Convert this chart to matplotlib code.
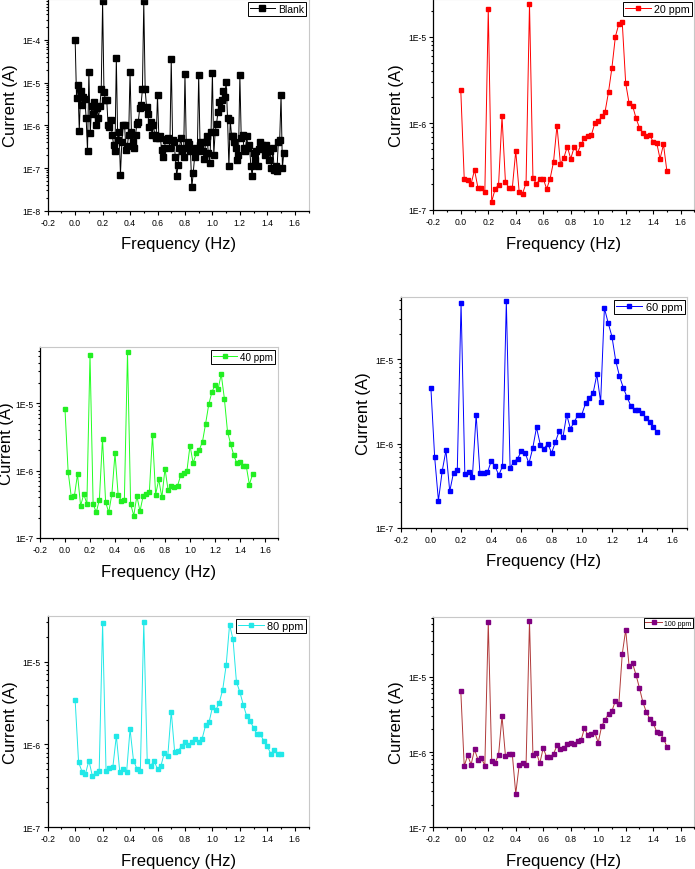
import numpy as np
import matplotlib
matplotlib.use("Agg")
import matplotlib.pyplot as plt
from matplotlib.ticker import FuncFormatter, MultipleLocator, LogLocator, NullFormatter

plt.rcParams['font.family'] = ['Liberation Sans', 'DejaVu Sans']

# ---------------- data ----------------
freq_blank = [round(0.01 * i, 2) for i in range(153)]
cur_blank = [
    1e-4, 4.4e-6, 9e-6, 7.5e-7, 6.5e-6, 3e-6, 4.5e-6, 4.2e-6, 1.5e-6, 2.5e-7,
    1.8e-5, 6.5e-7, 2.8e-6, 1.8e-6, 3.5e-6, 1e-6, 2.5e-6, 1.5e-6, 2.8e-6, 7e-6,
    8e-4, 6e-6, 4e-6, 4e-6, 1e-6, 9e-7, 1.3e-6, 6e-7, 3.5e-7, 2.5e-7,
    3.8e-5, 4.5e-7, 7e-7, 7e-8, 4e-7, 1e-6, 1e-6, 2.7e-7, 3.3e-7, 6e-7,
    1.8e-5, 7e-7, 4e-7, 3e-7, 6e-7, 1.1e-6, 1.2e-6, 2.5e-6, 3e-6, 7e-6,
    8e-4, 7e-6, 2.7e-6, 1.8e-6, 9e-7, 1.2e-6, 6e-7, 1e-6, 6e-7, 5e-7,
    5e-6, 5e-7, 5.5e-7, 2.6e-7, 1.8e-7, 3e-7, 4.5e-7, 4.8e-7, 5e-7, 3e-7,
    3.5e-5, 4.5e-7, 4e-7, 1.8e-7, 6.5e-8, 1.2e-7, 3e-7, 5e-7, 2.5e-7, 1.8e-7,
    1.6e-5, 3e-7, 4e-7, 3.6e-7, 2.5e-7, 3.5e-8, 7.5e-8, 1.8e-7, 3e-7, 2.5e-7,
    1.5e-5, 3.5e-7, 4e-7, 2.5e-7, 1.6e-7, 4e-7, 5.5e-7, 2.3e-7, 1.3e-7, 7e-7,
    1.7e-5, 2e-7, 7e-7, 1.1e-6, 2e-6, 3.5e-6, 2.5e-6, 4e-6, 6.5e-6, 4.5e-6,
    1.05e-5, 1.5e-6, 1.1e-7, 1.3e-6, 5.5e-7, 5.5e-7, 4e-7, 3e-7, 1.5e-7, 2e-7,
    1.5e-5, 5e-7, 6e-7, 3e-7, 2.5e-7, 5.5e-7, 3e-7, 3.5e-7, 1.1e-7, 6.5e-8,
    2.3e-7, 1.5e-7, 2.5e-7, 1.1e-7, 2.8e-7, 4e-7, 3.5e-7, 3e-7, 2e-7, 3.5e-7,
    2.5e-7, 1.5e-7, 2.5e-7, 1e-7, 3e-7, 9e-8, 1.1e-7, 8.5e-8, 4e-7, 4.5e-7,
    5e-6, 1.0e-7, 2.3e-7,
]

freq = [round(0.025 * i, 3) for i in range(61)]

cur_20 = [
    2.4e-6, 2.3e-7, 2.2e-7, 2.0e-7, 2.9e-7, 1.8e-7, 1.8e-7, 1.6e-7, 2.1e-5, 1.25e-7,
    1.75e-7, 1.95e-7, 1.2e-6, 2.1e-7, 1.8e-7, 1.8e-7, 4.8e-7, 1.6e-7, 1.55e-7, 2.05e-7,
    2.4e-5, 2.35e-7, 2.0e-7, 2.25e-7, 2.3e-7, 1.75e-7, 2.3e-7, 3.6e-7, 9.4e-7, 3.4e-7,
    4.0e-7, 5.4e-7, 3.9e-7, 5.3e-7, 4.6e-7, 5.7e-7, 6.7e-7, 7.1e-7, 7.3e-7, 1.0e-6,
    1.05e-6, 1.2e-6, 1.36e-6, 2.3e-6, 4.4e-6, 1.0e-5, 1.4e-5, 1.46e-5, 2.9e-6, 1.7e-6,
    1.6e-6, 1.15e-6, 8.9e-7, 7.8e-7, 7.1e-7, 7.3e-7, 6.1e-7, 6.0e-7, 3.9e-7, 5.7e-7,
    2.8e-7,
]

cur_40 = [
    8.1e-6, 9.7e-7, 4.1e-7, 4.2e-7, 8.8e-7, 3.0e-7, 4.5e-7, 3.2e-7, 5.3e-5, 3.2e-7,
    2.4e-7, 3.7e-7, 3.0e-6, 3.4e-7, 2.4e-7, 4.5e-7, 1.8e-6, 4.4e-7, 3.6e-7, 3.7e-7,
    5.8e-5, 3.2e-7, 2.15e-7, 4.2e-7, 2.5e-7, 4.2e-7, 4.5e-7, 4.9e-7, 3.4e-6, 4.4e-7,
    7.4e-7, 4.0e-7, 1.07e-6, 5.1e-7, 6.0e-7, 5.7e-7, 5.9e-7, 8.5e-7, 9.1e-7, 9.8e-7,
    2.36e-6, 1.3e-6, 1.8e-6, 2.05e-6, 2.7e-6, 5.0e-6, 9.6e-6, 1.47e-5, 1.86e-5, 1.64e-5,
    2.7e-5, 1.17e-5, 3.8e-6, 2.5e-6, 1.7e-6, 1.28e-6, 1.35e-6, 1.17e-6, 1.17e-6, 6.2e-7,
    8.8e-7,
]

cur_60 = [
    4.6e-6, 6.9e-7, 2.1e-7, 4.7e-7, 8.3e-7, 2.7e-7, 4.5e-7, 4.8e-7, 4.7e-5, 4.4e-7,
    4.65e-7, 4.0e-7, 2.2e-6, 4.45e-7, 4.5e-7, 4.55e-7, 6.2e-7, 5.4e-7, 4.2e-7, 5.4e-7,
    4.9e-5, 5.1e-7, 6.1e-7, 6.6e-7, 8.2e-7, 7.7e-7, 5.8e-7, 8.8e-7, 1.55e-6, 9.7e-7,
    8.7e-7, 1.0e-6, 7.7e-7, 1.04e-6, 1.4e-6, 1.18e-6, 2.2e-6, 1.5e-6, 1.8e-6, 2.2e-6,
    2.2e-6, 3.0e-6, 3.5e-6, 3.95e-6, 6.6e-6, 3.1e-6, 4.06e-5, 2.7e-5, 1.86e-5, 9.6e-6,
    6.3e-6, 4.6e-6, 3.55e-6, 2.8e-6, 2.5e-6, 2.5e-6, 2.3e-6, 2.0e-6, 1.8e-6, 1.56e-6,
    1.37e-6,
]

cur_80 = [
    3.4e-6, 6.1e-7, 4.7e-7, 4.4e-7, 6.4e-7, 4.2e-7, 4.5e-7, 4.8e-7, 2.9e-5, 4.8e-7,
    5.2e-7, 5.4e-7, 1.27e-6, 4.7e-7, 5.0e-7, 4.7e-7, 1.53e-6, 6.4e-7, 5.1e-7, 4.8e-7,
    3.0e-5, 6.3e-7, 5.5e-7, 6.4e-7, 5.0e-7, 5.5e-7, 8.0e-7, 7.3e-7, 2.5e-6, 8.1e-7,
    8.4e-7, 9.5e-7, 1.08e-6, 9.9e-7, 1.06e-6, 1.15e-6, 1.08e-6, 1.17e-6, 1.7e-6, 1.85e-6,
    2.8e-6, 2.6e-6, 3.2e-6, 4.6e-6, 9.0e-6, 2.8e-5, 1.86e-5, 5.7e-6, 4.3e-6, 3.0e-6,
    2.2e-6, 1.9e-6, 1.6e-6, 1.32e-6, 1.32e-6, 1.1e-6, 9.6e-7, 7.7e-7, 8.6e-7, 7.7e-7,
    7.7e-7,
]

cur_100 = [
    6.5e-6, 6.5e-7, 9.0e-7, 6.8e-7, 1.08e-6, 7.9e-7, 8.3e-7, 6.6e-7, 5.3e-5, 7.6e-7,
    7.2e-7, 9.2e-7, 3.0e-6, 8.9e-7, 9.3e-7, 9.3e-7, 2.8e-7, 6.7e-7, 7.1e-7, 6.7e-7,
    5.5e-5, 9.1e-7, 9.8e-7, 7.1e-7, 1.13e-6, 8.5e-7, 8.7e-7, 9.4e-7, 1.23e-6, 1.1e-6,
    1.14e-6, 1.27e-6, 1.31e-6, 1.27e-6, 1.39e-6, 1.43e-6, 2.07e-6, 1.67e-6, 1.75e-6, 1.82e-6,
    1.33e-6, 2.2e-6, 2.7e-6, 3.2e-6, 3.5e-6, 4.8e-6, 4.3e-6, 2.0e-5, 4.2e-5, 1.37e-5,
    1.5e-5, 1.06e-5, 7.1e-6, 4.6e-6, 3.4e-6, 2.75e-6, 2.45e-6, 1.86e-6, 1.8e-6, 1.5e-6,
    1.18e-6,
]

labels = ["Blank", "20 ppm", "40 ppm", "60 ppm", "80 ppm", "100 ppm"]

# ---------------- layout ----------------
W, H = 695, 870
fig = plt.figure(figsize=(W / 100, H / 100), dpi=100)

# pixel boxes: left, top, right, bottom
boxes = [
    (47.7, 0.0, 308.5, 211.7),
    (433.3, 0.0, 694.4, 211.0),
    (40.0, 348.3, 277.5, 539.0),
    (400.7, 298.3, 687.4, 528.7),
    (47.7, 617.3, 308.5, 828.3),
    (433.3, 617.7, 694.4, 828.3),
]
ylims = [(1e-8, 9.1e-4), (1e-7, 2.72e-5), (1e-7, 6.78e-5),
         (1e-7, 5.45e-5), (1e-7, 3.53e-5), (1e-7, 6.27e-5)]
series = [
    (freq_blank, cur_blank, "black", "black", 3.7),
    (freq, cur_20, "#ff0000", "#ff0000", 3.5),
    (freq, cur_40, "#22ff22", "#22ee22", 3.5),
    (freq, cur_60, "#0000ff", "#0000ff", 3.5),
    (freq, cur_80, "#22e8e8", "#22e8e8", 3.5),
    (freq, cur_100, "#b03a3a", "#800080", 3.5),
]
legend_fs = [7.5, 7.7, 7.1, 7.9, 7.8, 5.0]
ylabel_pads = [3, 3, 0.5, 3, 3, 3]


def efmt(v, pos):
    e = int(round(np.log10(v)))
    return "1E%d" % e


for i, (box, ylim, ser) in enumerate(zip(boxes, ylims, series)):
    l, t, r, b = box
    ax = fig.add_axes([l / W, 1 - b / H, (r - l) / W, (b - t) / H])
    x, y, lc, mc, ms = ser
    ax.plot(x, y, '-', color=lc, lw=0.7, marker='s', ms=ms,
            mfc=mc, mec=mc, label=labels[i])
    ax.set_yscale('log')
    ax.set_xlim(-0.2, 1.7)
    ax.set_ylim(*ylim)
    ax.xaxis.set_major_locator(MultipleLocator(0.2))
    ax.xaxis.set_minor_locator(MultipleLocator(0.1))
    ax.xaxis.set_major_formatter(FuncFormatter(lambda v, p: "%.1f" % v))
    ax.yaxis.set_major_locator(LogLocator(base=10, numticks=20))
    ax.yaxis.set_minor_locator(LogLocator(base=10, subs=np.arange(2, 10), numticks=20))
    ax.yaxis.set_major_formatter(FuncFormatter(efmt))
    ax.yaxis.set_minor_formatter(NullFormatter())
    ax.tick_params(which='both', direction='out', top=False, right=False,
                   labelsize=6.2, width=0.8, pad=2)
    ax.tick_params(which='major', length=3)
    ax.tick_params(which='minor', length=1.6)
    for s in ('left', 'bottom'):
        ax.spines[s].set_color('black')
        ax.spines[s].set_linewidth(0.9)
    for s in ('top', 'right'):
        ax.spines[s].set_color('#c8c8c8')
        ax.spines[s].set_linewidth(0.8)
    ax.set_xlabel("Frequency (Hz)", fontsize=12, labelpad=7)
    ax.set_ylabel("Current (A)", fontsize=12, labelpad=ylabel_pads[i])
    leg = ax.legend(loc='upper right', fontsize=legend_fs[i], frameon=True,
                    fancybox=False, edgecolor='black', framealpha=1,
                    borderaxespad=0.25, borderpad=0.2, handlelength=2.4,
                    handletextpad=0.3, markerscale=1.0)
    leg.get_frame().set_linewidth(0.7)

fig.savefig("out.png", dpi=100)
